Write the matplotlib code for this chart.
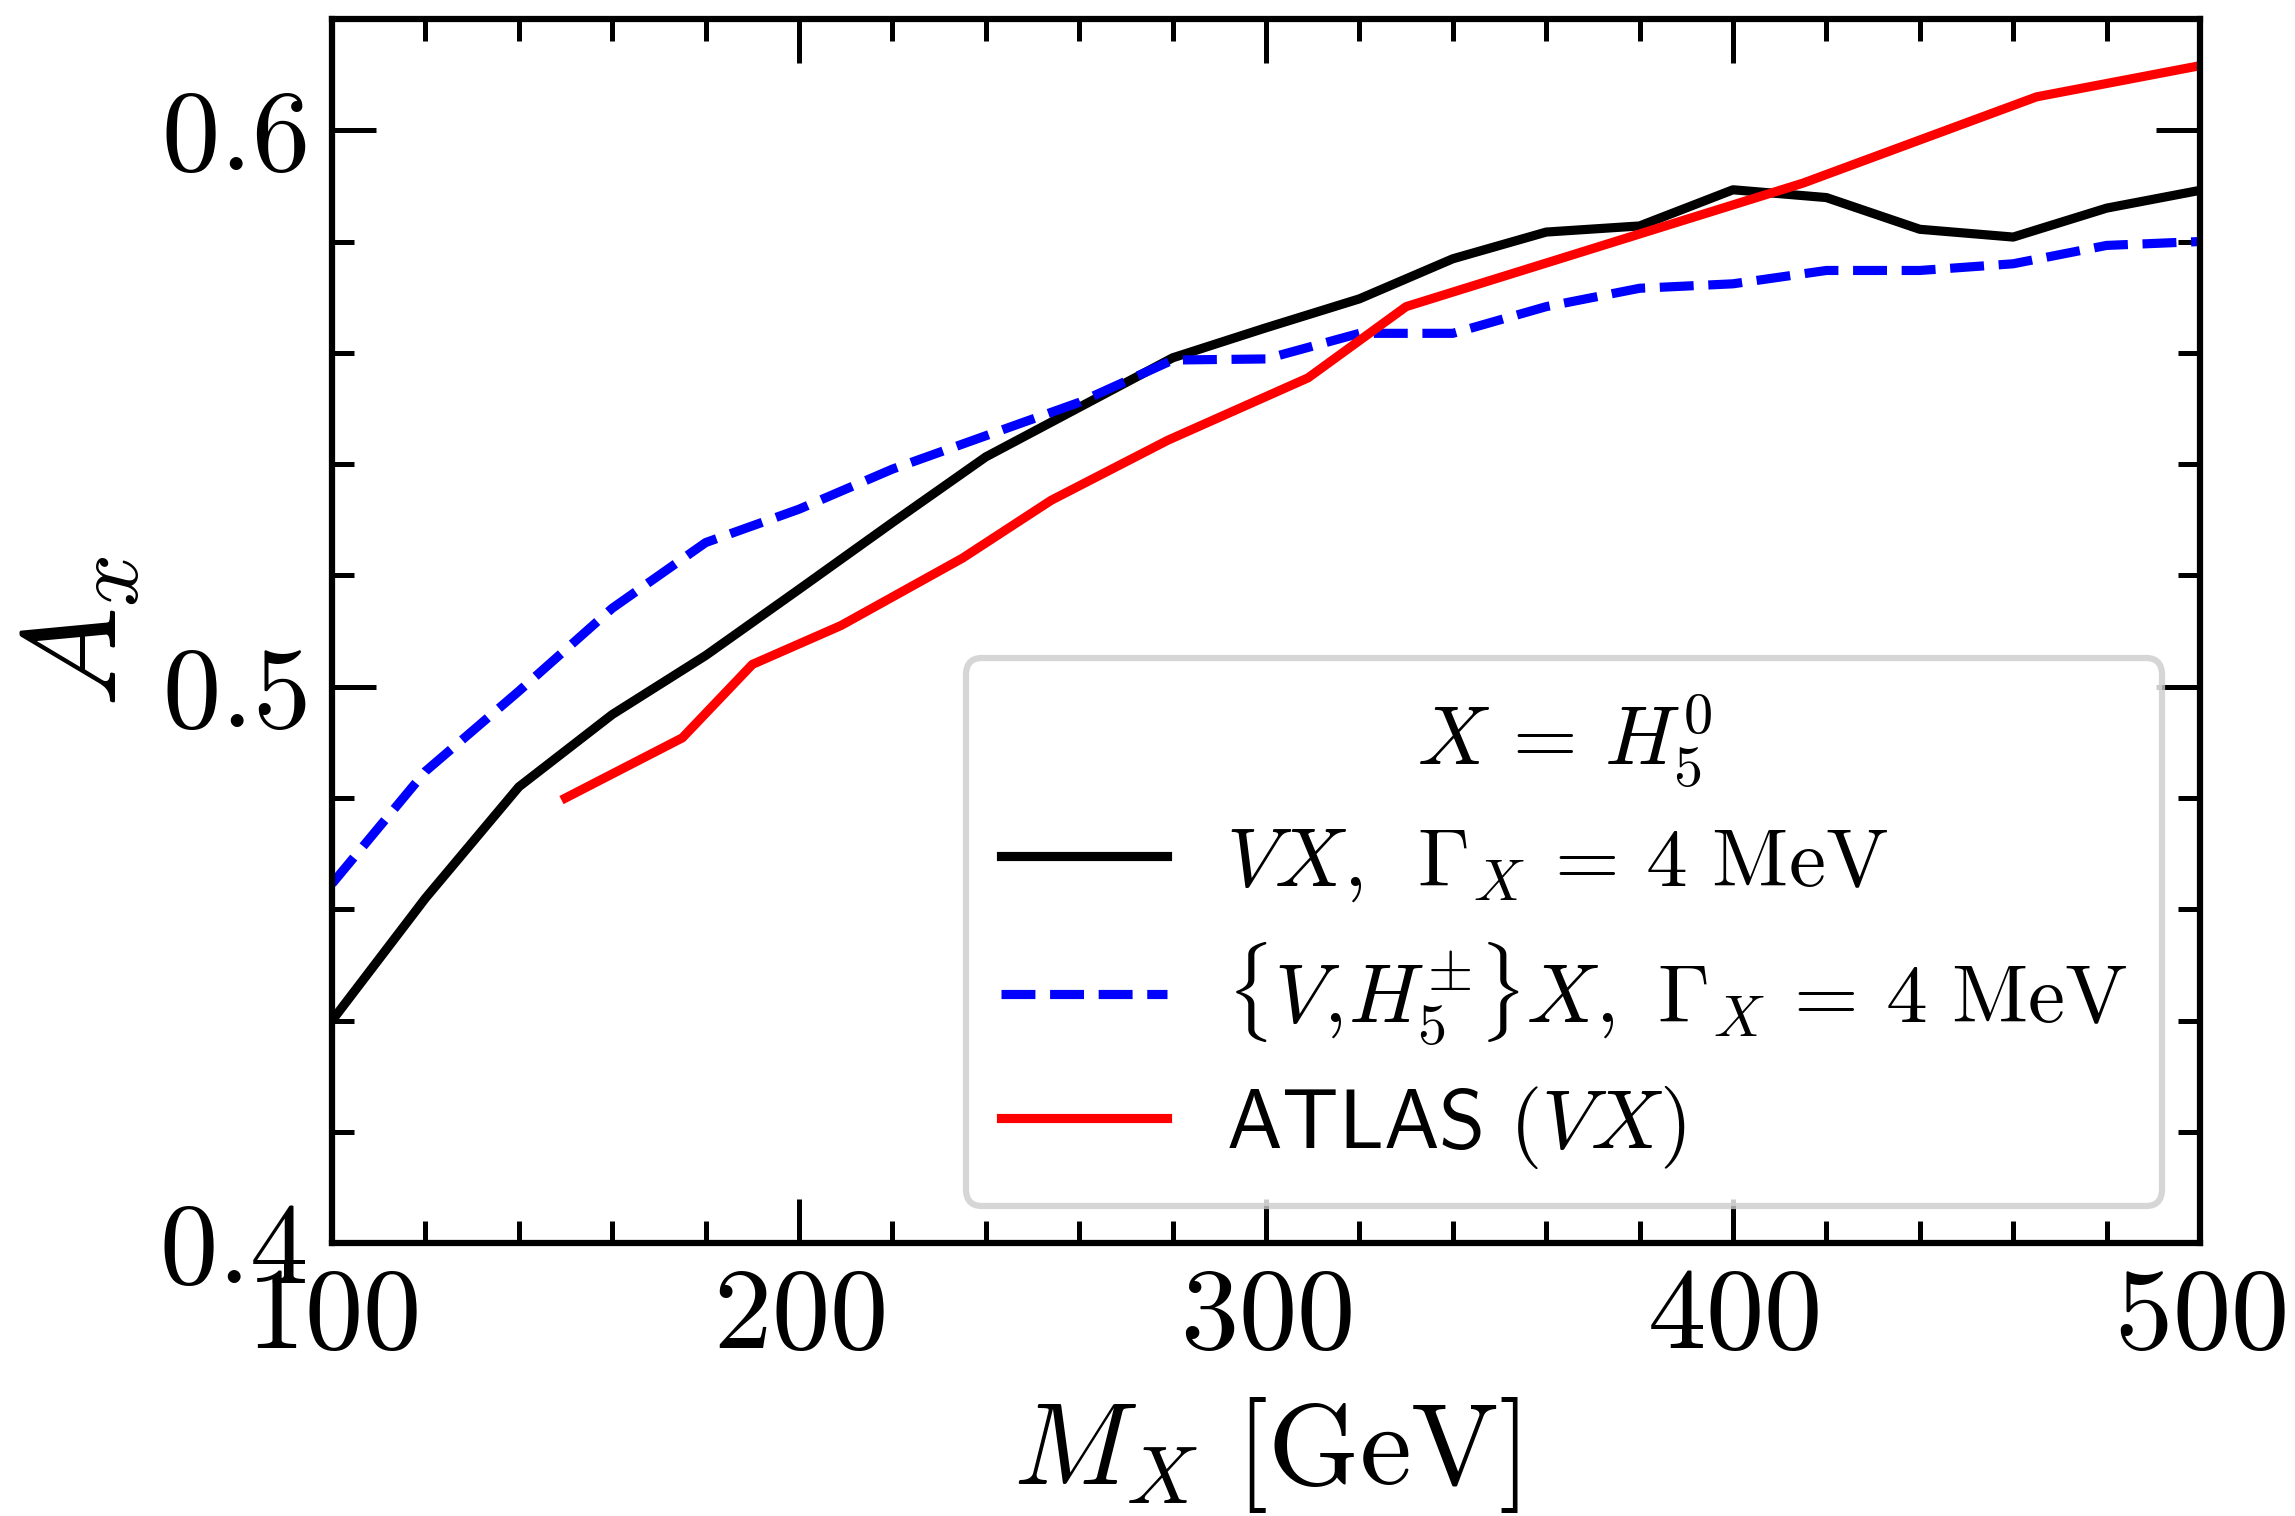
import matplotlib
matplotlib.use('Agg')
import matplotlib.pyplot as plt
from matplotlib.ticker import MultipleLocator, FuncFormatter

# Data
mass = [100, 120, 140, 160, 180, 200, 220, 240, 260, 280, 300,
        320, 340, 360, 380, 400, 420, 440, 460, 480, 500]
acc_vx = [0.440, 0.462, 0.482, 0.495, 0.5056, 0.5175, 0.5295, 0.5413, 0.5502, 0.5591, 0.5645,
          0.5697, 0.5769, 0.5817, 0.5828, 0.5893, 0.5879, 0.5822, 0.5808, 0.5860, 0.5892]
acc_vhx = [0.4646, 0.4848, 0.4992, 0.5141, 0.5259, 0.5319, 0.5391, 0.5451, 0.5511, 0.5587, 0.5589,
           0.5635, 0.5635, 0.5683, 0.5716, 0.5724, 0.5748, 0.5748, 0.5760, 0.5793, 0.5800]
atlas_mass = [150, 175, 190, 209, 235, 254, 279, 309, 330, 415, 465, 500]
atlas_acc = [0.480, 0.4908, 0.504, 0.511, 0.5231, 0.5335, 0.5443, 0.5555, 0.5683, 0.5905, 0.606, 0.6116]

plt.rcParams['mathtext.fontset'] = 'cm'
plt.rcParams['font.family'] = 'serif'
plt.rcParams['font.serif'] = ['cmr10', 'DejaVu Serif']

fig = plt.figure(figsize=(22.95 / 3, 15.16 / 3), dpi=300)
ax = fig.add_axes([0.1447, 0.180, 0.9586 - 0.1447, 0.9875 - 0.180])

ax.plot(mass, acc_vx, color='black', lw=2.2,
        label=r'$VX,\ \,\Gamma_X\,=\,4\ \mathrm{MeV}$')
ax.plot(mass, acc_vhx, color='blue', lw=2.2, ls='--',
        label=r'$\{V,\!H_5^{\pm}\}X,\ \Gamma_X\,=\,4\ \mathrm{MeV}$')
ax.plot(atlas_mass, atlas_acc, color='red', lw=2.2, label=r'$\mathsf{ATLAS}\ (VX)$')

ax.set_xlim(100, 500)
ax.set_ylim(0.4, 0.62)
ax.xaxis.set_major_locator(MultipleLocator(100))
ax.xaxis.set_minor_locator(MultipleLocator(20))
ax.yaxis.set_major_locator(MultipleLocator(0.1))
ax.yaxis.set_minor_locator(MultipleLocator(0.02))
ax.xaxis.set_major_formatter(FuncFormatter(lambda v, p: r'$%g$' % v))
ax.yaxis.set_major_formatter(FuncFormatter(lambda v, p: r'$%g$' % round(v, 2)))

ax.tick_params(which='both', direction='in', top=True, right=True, width=1.2, labelsize=28, pad=6)
ax.tick_params(which='major', length=10.5)
ax.tick_params(which='minor', length=5.3)
for s in ax.spines.values():
    s.set_linewidth(1.5)

ax.set_xlabel(r'$M_X\ [\mathrm{GeV}]$', fontsize=28, labelpad=6)
ax.set_ylabel(r'$A_x$', fontsize=32, labelpad=4)

leg = ax.legend(loc='lower right', title=r'$X\,=\,H_5^0$', fontsize=20, title_fontsize=20,
                handlelength=2.0, handletextpad=0.7, labelspacing=0.44,
                borderaxespad=0.45, borderpad=0.42)
leg.get_frame().set_linewidth(1.5)

fig.savefig('out.png', dpi=300)
